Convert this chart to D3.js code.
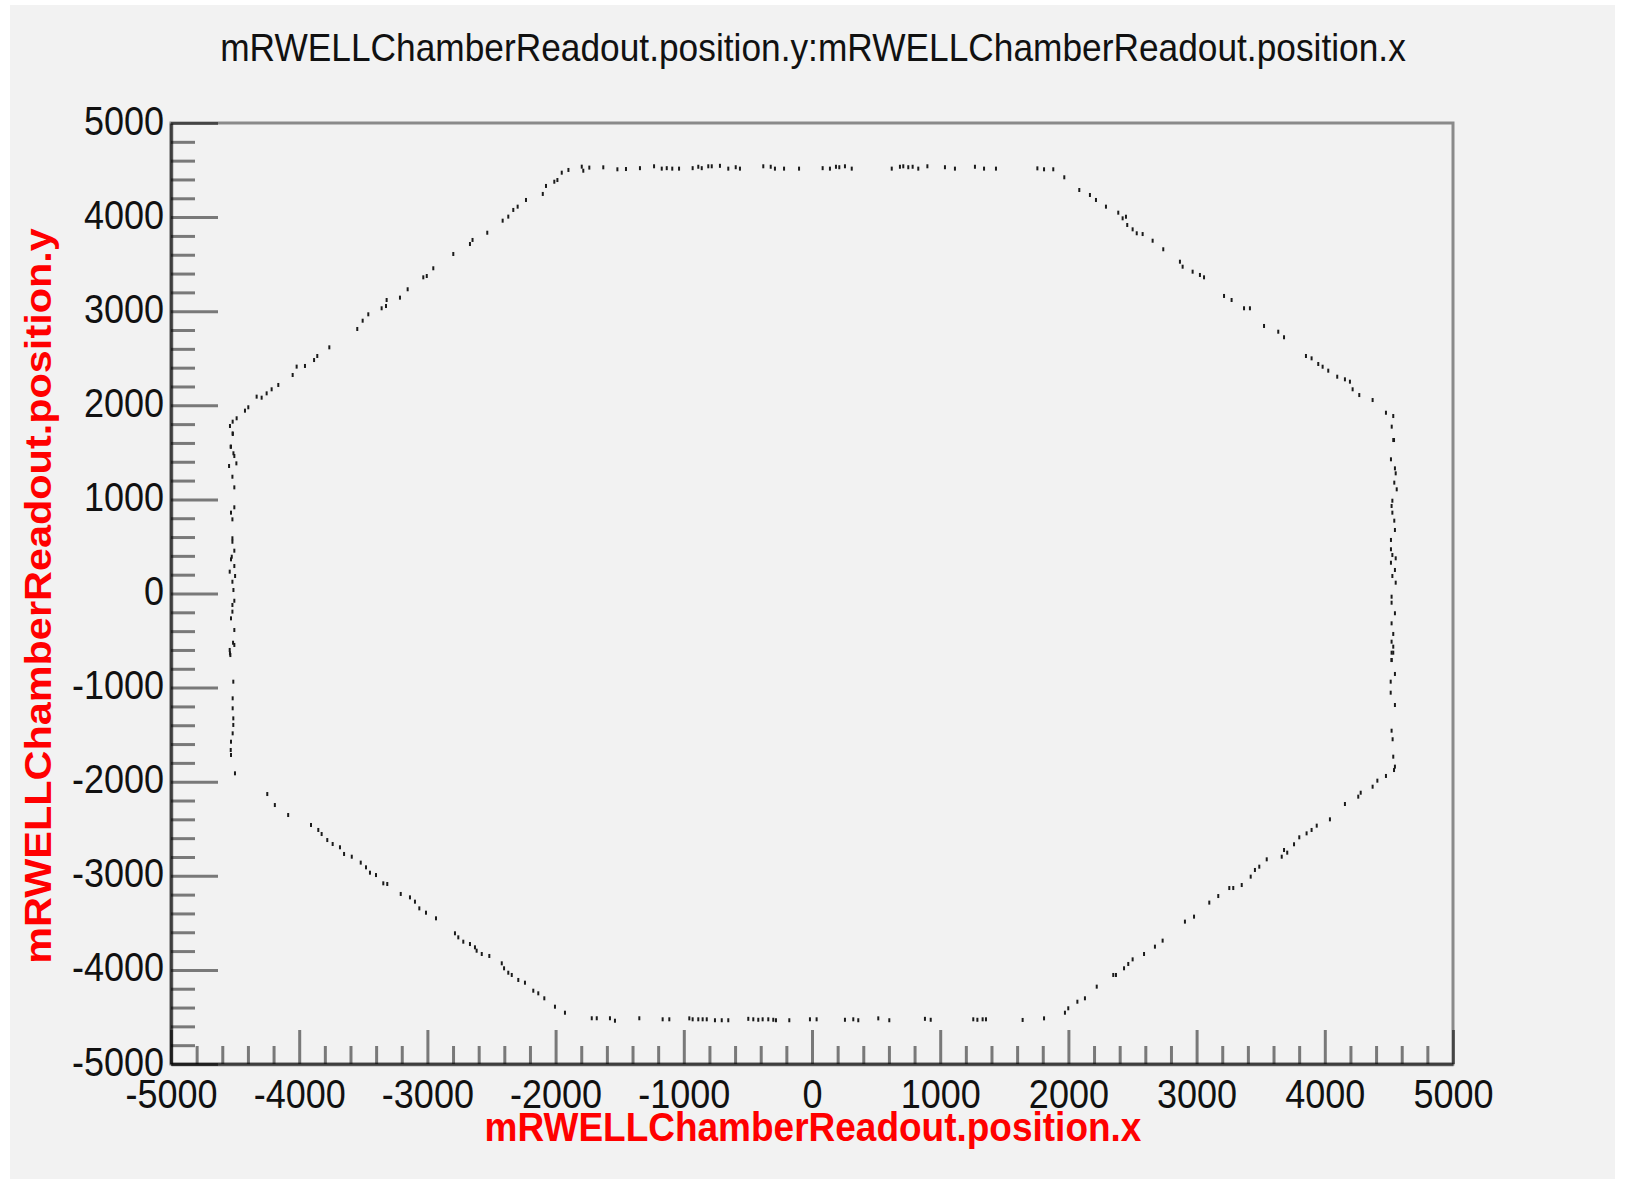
<!DOCTYPE html>
<html><head><meta charset="utf-8">
<script src="https://cdn.jsdelivr.net/npm/d3@7"></script>
<style>body{margin:0;background:#fff;} svg{display:block;}</style>
</head><body>
<svg id="c" width="1629" height="1181"></svg>
<script>
// ---------- texts & ticks ----------
const titleText = "mRWELLChamberReadout.position.y:mRWELLChamberReadout.position.x";
const xTitle = "mRWELLChamberReadout.position.x";
const yTitle = "mRWELLChamberReadout.position.y";
const xMajorTicks = [-5000,-4000,-3000,-2000,-1000,0,1000,2000,3000,4000,5000];
const yMajorTicks = [-5000,-4000,-3000,-2000,-1000,0,1000,2000,3000,4000,5000];
const axisDomain = [-5000, 5000];

// ---------- hits [x, y] ----------
const hitsTop = [[-1342,4520],[-1232,4540],[-1172,4515],[-1133,4520],[-1090,4515],[-1037,4515],[-931,4520],[-887,4535],[-860,4520],[-809,4540],[-782,4540],[-718,4545],[-653,4515],[-595,4530],[-562,4515],[-380,4540],[-322,4535],[-289,4515],[-218,4515],[-101,4515],[83,4520],[140,4515],[187,4535],[213,4530],[257,4540],[310,4515],[622,4515],[686,4535],[712,4540],[751,4530],[785,4535],[829,4515],[900,4540],[1037,4530],[1115,4515],[1271,4535],[1342,4515],[1435,4515]];
const hitsTopLeft = [[-1451,4511],[-1518,4508],[-1628,4529],[-1737,4526],[-1784,4493],[-1796,4536],[-1900,4501],[-1952,4472],[-1986,4394],[-2010,4376],[-2075,4331],[-2100,4246],[-2231,4182],[-2296,4111],[-2330,4076],[-2369,4005],[-2413,3962],[-2533,3834],[-2648,3757],[-2668,3714],[-2798,3608],[-2954,3456],[-3005,3374],[-3032,3360],[-3154,3233],[-3214,3144],[-3318,3119],[-3323,3055],[-3357,3031],[-3461,2967],[-3505,2899],[-3547,2811],[-3765,2616],[-3859,2524],[-3884,2481],[-3955,2418],[-4020,2411],[-4051,2322],[-4163,2216],[-4215,2170],[-4254,2127],[-4293,2081],[-4332,2092],[-4397,1979],[-4423,1943],[-4488,1862],[-4519,1826],[-4540,1780],[-4519,1702],[-4535,1560]];
const hitsLeft = [[-4518,1695],[-4532,1560],[-4513,1490],[-4506,1461],[-4490,1383],[-4547,1355],[-4521,1241],[-4506,1128],[-4506,916],[-4532,859],[-4521,788],[-4521,587],[-4521,550],[-4506,455],[-4526,391],[-4532,363],[-4506,292],[-4542,232],[-4500,186],[-4521,125],[-4513,37],[-4506,-77],[-4521,-122],[-4521,-193],[-4532,-264],[-4506,-388],[-4516,-523],[-4506,-547],[-4542,-600],[-4537,-654],[-4540,-636],[-4514,-937],[-4519,-1114],[-4519,-1220],[-4514,-1327],[-4514,-1397],[-4519,-1486],[-4532,-1575],[-4534,-1663],[-4532,-1716],[-4501,-1911]];
const hitsBottomLeft = [[-4249,-2131],[-4190,-2248],[-4086,-2354],[-3908,-2460],[-3851,-2513],[-3825,-2556],[-3781,-2620],[-3739,-2662],[-3682,-2697],[-3650,-2768],[-3590,-2797],[-3520,-2860],[-3479,-2910],[-3448,-2967],[-3401,-2992],[-3344,-3080],[-3313,-3087],[-3208,-3193],[-3136,-3229],[-3097,-3275],[-3063,-3346],[-3011,-3392],[-2933,-3452],[-2785,-3611],[-2759,-3654],[-2720,-3700],[-2668,-3725],[-2629,-3760],[-2616,-3796],[-2576,-3831],[-2517,-3852],[-2420,-3930],[-2402,-3983],[-2369,-4030],[-2342,-4054],[-2291,-4107],[-2239,-4136],[-2174,-4221],[-2135,-4249],[-2088,-4302],[-2005,-4391],[-1927,-4455],[-1718,-4514],[-1679,-4514],[-1576,-4514],[-1537,-4540],[-1347,-4514]];
const hitsBottom = [[-1165,-4525],[-1113,-4525],[-957,-4515],[-931,-4525],[-887,-4525],[-853,-4525],[-821,-4525],[-757,-4535],[-704,-4535],[-653,-4535],[-497,-4520],[-458,-4525],[-419,-4530],[-385,-4525],[-341,-4525],[-302,-4530],[-281,-4535],[-177,-4535],[-16,-4525],[36,-4525],[257,-4530],[322,-4525],[361,-4535],[517,-4515],[603,-4535],[881,-4520],[926,-4530],[1258,-4525],[1290,-4530],[1331,-4525],[1357,-4525],[1643,-4532]];
const hitsBottomRight = [[1810,-4515],[1973,-4455],[1999,-4408],[2070,-4338],[2129,-4302],[2221,-4178],[2350,-4054],[2371,-4054],[2434,-3983],[2467,-3937],[2501,-3888],[2590,-3831],[2675,-3753],[2735,-3689],[2909,-3487],[2980,-3434],[3099,-3285],[3169,-3215],[3255,-3130],[3286,-3130],[3352,-3098],[3422,-3009],[3455,-2938],[3489,-2903],[3547,-2825],[3664,-2797],[3682,-2726],[3707,-2754],[3760,-2665],[3801,-2591],[3858,-2549],[3897,-2513],[3937,-2467],[4040,-2400],[4157,-2237],[4261,-2159],[4280,-2117],[4373,-2053],[4410,-1989],[4477,-1939],[4540,-1876],[4547,-1840]];
const hitsRight = [[4534,-1734],[4529,-1549],[4521,-1458],[4547,-1185],[4514,-1054],[4514,-937],[4547,-855],[4521,-707],[4521,-629],[4534,1631],[4516,1426],[4547,1330],[4553,1277],[4542,1178],[4561,1107],[4527,986],[4521,930],[4527,859],[4542,774],[4547,675],[4516,569],[4516,470],[4527,409],[4553,374],[4516,327],[4547,250],[4527,186],[4553,115],[4521,-34],[4521,-98],[4547,-210],[4521,-317],[4534,-430],[4521,-512],[4534,-565],[4534,-629],[4521,-707]];
const hitsTopRight = [[1758,4518],[1810,4508],[1882,4508],[1968,4423],[2085,4288],[2168,4235],[2215,4182],[2293,4111],[2389,4047],[2423,3987],[2449,4004],[2459,3916],[2501,3870],[2533,3828],[2579,3820],[2657,3749],[2740,3658],[2870,3526],[2891,3473],[2969,3420],[3026,3385],[3058,3360],[3214,3162],[3273,3119],[3370,3031],[3416,3031],[3526,2843],[3637,2782],[3682,2723],[3853,2524],[3897,2499],[3949,2439],[3983,2410],[4027,2368],[4097,2304],[4157,2276],[4196,2251],[4217,2170],[4269,2109],[4373,2056],[4477,1921],[4534,1886],[4522,1773],[4540,1631]];

// ---------- layout ----------
const W = 1629, H = 1181;
const frame = {left:171, top:123, right:1453, bottom:1064};
const TS = 1.108; // vertical glyph stretch of the original picture
const FONT = "'Liberation Sans', Arial, Helvetica, sans-serif";
const fmt = d => String(d); // plain hyphen minus, as in the original

const svg = d3.select("#c");
svg.append("rect").attr("x",0).attr("y",0).attr("width",W).attr("height",H).attr("fill","#ffffff");
svg.append("rect").attr("x",10).attr("y",5).attr("width",1605).attr("height",1174).attr("fill","#f2f2f2");

const x = d3.scaleLinear().domain(axisDomain).range([frame.left, frame.right]);
const y = d3.scaleLinear().domain(axisDomain).range([frame.bottom, frame.top]);

// frame
svg.append("rect").attr("x",frame.left).attr("y",frame.top)
  .attr("width",frame.right-frame.left).attr("height",frame.bottom-frame.top)
  .attr("fill","none").attr("stroke","#8a8a8a").attr("stroke-width",3);

// hits
const hits = [].concat(hitsTop, hitsTopLeft, hitsLeft, hitsBottomLeft, hitsBottom, hitsBottomRight, hitsRight, hitsTopRight);
svg.append("g").selectAll("rect").data(hits).join("rect")
  .attr("x", d => x(d[0]) - 1).attr("y", d => y(d[1]) - 2)
  .attr("width", 2).attr("height", 4).attr("fill", "#1a1a1a");

const minorOf = majors => { const out=[]; for (let i=0;i<majors.length-1;i++){ const s=(majors[i+1]-majors[i])/5; for(let k=1;k<5;k++) out.push(majors[i]+k*s);} return out; };
const tickStroke = "rgba(0,0,0,0.5)";

// x axis
const gxMinor = svg.append("g").attr("transform",`translate(0,${frame.bottom})`)
  .call(d3.axisBottom(x).tickValues(minorOf(xMajorTicks)).tickSize(-18).tickSizeOuter(0).tickFormat(""));
gxMinor.select(".domain").remove();
const gx = svg.append("g").attr("transform",`translate(0,${frame.bottom})`)
  .call(d3.axisBottom(x).tickValues(xMajorTicks).tickSize(-34).tickSizeOuter(0).tickFormat(fmt));
gx.selectAll("text").attr("y",0).attr("dy",null)
  .attr("transform",`translate(0,44) scale(1,${TS})`)
  .attr("font-size",36).attr("font-family",FONT).attr("fill","#111");

// y axis
const gyMinor = svg.append("g").attr("transform",`translate(${frame.left},0)`)
  .call(d3.axisLeft(y).tickValues(minorOf(yMajorTicks)).tickSize(-24).tickSizeOuter(0).tickFormat(""));
gyMinor.select(".domain").remove();
const gy = svg.append("g").attr("transform",`translate(${frame.left},0)`)
  .call(d3.axisLeft(y).tickValues(yMajorTicks).tickSize(-47).tickSizeOuter(0).tickFormat(fmt));
gy.selectAll("text").attr("x",-7).attr("dy",null)
  .attr("transform",`translate(0,11) scale(1,${TS})`)
  .attr("font-size",36).attr("font-family",FONT).attr("fill","#111");

svg.selectAll(".tick line").attr("stroke",tickStroke).attr("stroke-width",3);
svg.selectAll(".domain").attr("stroke","rgba(0,0,0,0.55)").attr("stroke-width",3.5);

// titles
svg.append("text").attr("text-anchor","middle")
  .attr("transform",`translate(813,61) scale(1,${TS})`)
  .attr("font-family",FONT).attr("font-size",35.3).attr("fill","#111").text(titleText);
svg.append("text").attr("text-anchor","middle")
  .attr("transform",`translate(813,1141) scale(1,${TS})`)
  .attr("font-family",FONT).attr("font-weight","bold").attr("font-size",37).attr("fill","#ff0000").text(xTitle);
svg.append("text").attr("text-anchor","middle")
  .attr("transform",`translate(51,596) rotate(-90) scale(1.12,1)`)
  .attr("font-family",FONT).attr("font-weight","bold").attr("font-size",37).attr("fill","#ff0000").text(yTitle);
</script>
</body></html>
